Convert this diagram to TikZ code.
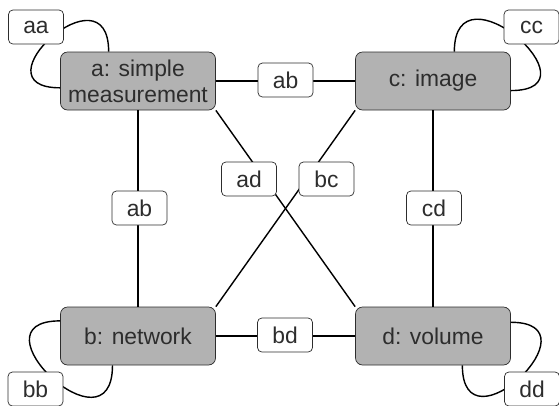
\documentclass[tikz,border=0pt]{standalone}
\usepackage{fontspec}
\setmainfont{Liberation Sans}
\definecolor{boxgray}{RGB}{178,178,178}
\definecolor{inkgray}{RGB}{45,45,45}

\begin{document}
\begin{tikzpicture}[font=\fontsize{13}{14.7}\selectfont,
    kind/.style={draw=inkgray,fill=boxgray,text=inkgray,rounded corners=4pt,
      minimum width=3.1cm,minimum height=1.16cm,align=center,inner sep=1pt},
    rel/.style={draw=inkgray,fill=white,text=inkgray,rounded corners=2.5pt,
      minimum width=1.1cm,minimum height=0.68cm,inner sep=1pt},
    link/.style={line width=0.8pt,black}]
        \useasboundingbox (0,0) rectangle (11.18,8.1);
        \node[kind] (a) at (2.76,6.48) {a: simple\\measurement};
        \node[kind] (c) at (8.66,6.48) {c: image};
        \node[kind] (b) at (2.76,1.38) {b: network};
        \node[kind] (d) at (8.66,1.38) {d: volume};
        % connectors
        \draw[link] (a) -- (c);
        \draw[link] (a) -- (b);
        \draw[link] (c) -- (d);
        \draw[link] (b) -- (d);
        \draw[link] (a.south east) -- (d.north west);
        \draw[link] (c.south west) -- (b.north east);
        % self loops
        \draw[link] (a.135) to[out=90,in=180,looseness=3.7] (a.185);
        \draw[link] (c.54) to[out=90,in=0,looseness=3.4] (c.353);
        \draw[link] (b.169) to[out=180,in=270,looseness=3.43] (b.229);
        \draw[link] (d.10) to[out=0,in=270,looseness=3.54] (d.315);
        % labels
        \node[rel] (ab1) at (5.71,6.5) {ab};
        \node[rel] (ab2) at (2.79,3.94) {ab};
        \node[rel] (cd) at (8.68,3.94) {cd};
        \node[rel] (ad) at (4.98,4.52) {ad};
        \node[rel] (bc) at (6.53,4.52) {bc};
        \node[rel] (bd) at (5.70,1.40) {bd};
        \node[rel] (aa) at (0.72,7.56) {aa};
        \node[rel] (cc) at (10.63,7.56) {cc};
        \node[rel] (bb) at (0.71,0.32) {bb};
        \node[rel] (dd) at (10.64,0.32) {dd};
      \end{tikzpicture}
\end{document}
